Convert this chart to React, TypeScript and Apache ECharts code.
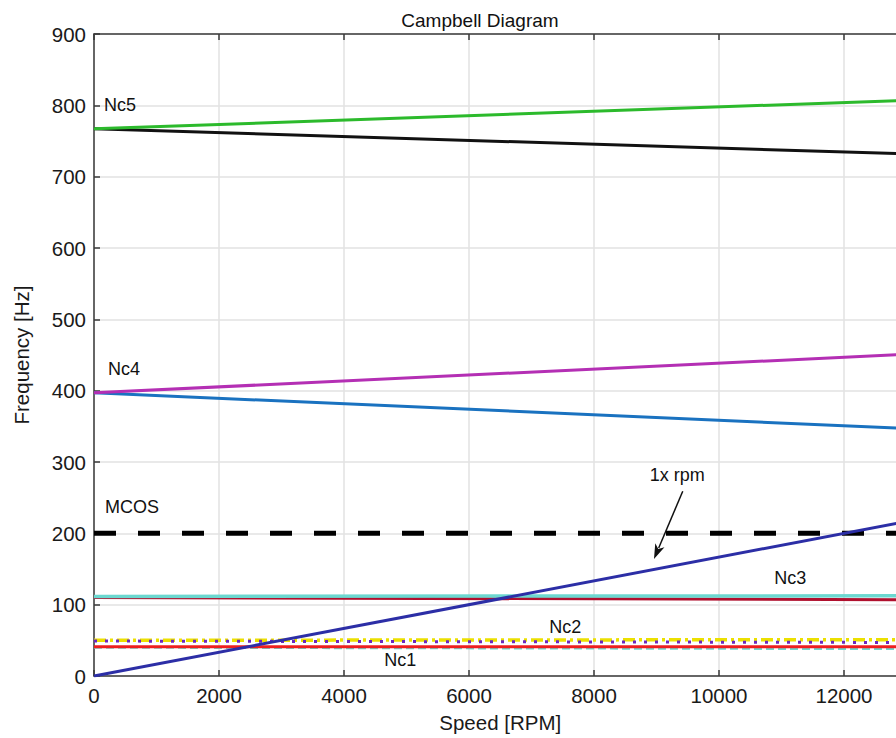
import React, { useEffect, useRef } from "react";
import * as echarts from "echarts";

// Speed range (RPM) at which each line is evaluated
const speeds = [0, 13000];

// Natural frequency branches (Hz) at the speeds above
const nc5Forward = [767, 807];
const nc5Backward = [767, 732];
const nc4Forward = [397, 451];
const nc4Backward = [397, 347];
const nc3Forward = [111.5, 112.5];
const nc3Backward = [110, 107];
const nc2Forward = [50, 51];
const nc2Backward = [49, 47];
const nc1Forward = [41, 41];
const nc1Backward = [40, 38];
const mcos = [200, 200];
const oneXRpm = [0, 216.7];

// Annotation anchors in data coordinates: [speed, frequency]
const textLabels: { text: string; at: [number, number]; align: "left" | "center" }[] = [
  { text: "Nc5", at: [160, 800], align: "left" },
  { text: "Nc4", at: [224, 430], align: "left" },
  { text: "MCOS", at: [176, 237], align: "left" },
  { text: "1x rpm", at: [9330, 282], align: "center" },
  { text: "Nc3", at: [11140, 137], align: "center" },
  { text: "Nc2", at: [7540, 69], align: "center" },
  { text: "Nc1", at: [4900, 22], align: "center" },
];
const arrowFrom: [number, number] = [9420, 259];
const arrowTip: [number, number] = [8960, 164];

const pts = (vals: number[]) => speeds.map((s, i) => [s, vals[i]]);

function lineSeries(name: string, vals: number[], color: string, width: number, type: any = "solid", z = 2) {
  return {
    name,
    type: "line",
    data: pts(vals),
    showSymbol: false,
    symbol: "none",
    z,
    lineStyle: { color, width, type, cap: "butt" },
    silent: true,
  };
}

const FONT = "'Liberation Sans', Arial, Helvetica, sans-serif";

export default function App() {
  const ref = useRef<HTMLDivElement>(null);

  useEffect(() => {
    if (!ref.current) return;
    const chart = echarts.init(ref.current, undefined, { renderer: "svg" });
    const axisLine = { show: true, lineStyle: { color: "#3a3a3a", width: 1.5 } };
    const axisTick = { show: true, inside: true, length: 6, lineStyle: { color: "#3a3a3a", width: 1.5 } };
    chart.setOption({
      animation: false,
      backgroundColor: "#ffffff",
      textStyle: { fontFamily: FONT },
      title: {
        text: "Campbell Diagram",
        left: 475,
        top: 6,
        textAlign: "center",
        textStyle: { fontSize: 19, fontWeight: "normal", color: "#111", fontFamily: FONT },
      },
      grid: { left: 94, top: 34, bottom: 62, right: -10.5, containLabel: false, outerBoundsMode: "none" },
      xAxis: [
        {
          type: "value",
          min: 0,
          max: 13000,
          interval: 2000,
          position: "bottom",
          axisLine,
          axisTick,
          axisLabel: {
            fontSize: 20.5,
            color: "#1a1a1a",
            margin: 9,
            fontFamily: FONT,
            formatter: (v: number) => (v > 12000 ? "" : String(v)),
          },
          splitLine: { show: true, lineStyle: { color: "#e2e2e2", width: 1.5 } },
          name: "Speed [RPM]",
          nameLocation: "middle",
          nameGap: 36,
          nameTextStyle: { fontSize: 20.5, color: "#1a1a1a", fontFamily: FONT },
        },
        {
          type: "value",
          min: 0,
          max: 13000,
          interval: 2000,
          position: "top",
          axisLine,
          axisTick,
          axisLabel: { show: false },
          splitLine: { show: false },
        },
      ],
      yAxis: {
        type: "value",
        min: 0,
        max: 900,
        interval: 100,
        axisLine,
        axisTick,
        axisLabel: { fontSize: 20.5, color: "#1a1a1a", margin: 8, fontFamily: FONT },
        splitLine: { show: true, lineStyle: { color: "#e2e2e2", width: 1.5 } },
        name: "Frequency [Hz]",
        nameLocation: "middle",
        nameGap: 62,
        nameRotate: 90,
        nameTextStyle: { fontSize: 20.5, color: "#1a1a1a", fontFamily: FONT },
      },
      series: [
        lineSeries("Nc5 backward", nc5Backward, "#111111", 3),
        lineSeries("Nc5 forward", nc5Forward, "#2cba2c", 3),
        lineSeries("Nc4 backward", nc4Backward, "#1a72c0", 3),
        lineSeries("Nc4 forward", nc4Forward, "#b42fb4", 3),
        lineSeries("MCOS", mcos, "#000000", 5, [22, 22]),
        lineSeries("Nc3 backward", nc3Backward, "#b0102e", 3),
        lineSeries("Nc3 forward", nc3Forward, "#6cd8d0", 3.5),
        lineSeries("Nc1 backward", nc1Backward, "#6fd8d0", 2.5, [8, 4]),
        lineSeries("Nc1 forward", nc1Forward, "#ee1f1f", 3),
        lineSeries("Nc2 forward", nc2Forward, "#ece000", 3.5, [12, 4, 3, 4]),
        lineSeries("Nc2 backward", nc2Backward, "#6a28c0", 3, [3, 8]),
        lineSeries("1x rpm", oneXRpm, "#2c2ea6", 3, "solid", 3),
      ],
    });

    const px = (p: [number, number]) => chart.convertToPixel({ xAxisIndex: 0, yAxisIndex: 0 }, p) as number[];
    const graphics: any[] = textLabels.map((l) => {
      const [x, y] = px(l.at);
      return {
        type: "text",
        x,
        y,
        z: 10,
        style: {
          text: l.text,
          fill: "#111",
          font: `18px ${FONT}`,
          textAlign: l.align,
          textVerticalAlign: "middle",
        },
      };
    });
    const [x1, y1] = px(arrowFrom);
    const [x2, y2] = px(arrowTip);
    const dx = x2 - x1;
    const dy = y2 - y1;
    const len = Math.hypot(dx, dy);
    const ux = dx / len;
    const uy = dy / len;
    const headLen = 15;
    const headHalf = 5;
    const bx = x2 - ux * headLen;
    const by = y2 - uy * headLen;
    graphics.push({
      type: "line",
      z: 10,
      shape: { x1, y1, x2: bx + ux * 3, y2: by + uy * 3 },
      style: { stroke: "#111", lineWidth: 1.5 },
    });
    graphics.push({
      type: "polygon",
      z: 10,
      shape: {
        points: [
          [x2, y2],
          [bx - uy * headHalf, by + ux * headHalf],
          [bx + ux * 4, by + uy * 4],
          [bx + uy * headHalf, by - ux * headHalf],
        ],
      },
      style: { fill: "#111" },
    });
    chart.setOption({ graphic: graphics });

    return () => chart.dispose();
  }, []);

  return (
    <div
      ref={ref}
      style={{ position: "absolute", left: 0, top: 0, width: 896, height: 738, overflow: "hidden" }}
    />
  );
}
